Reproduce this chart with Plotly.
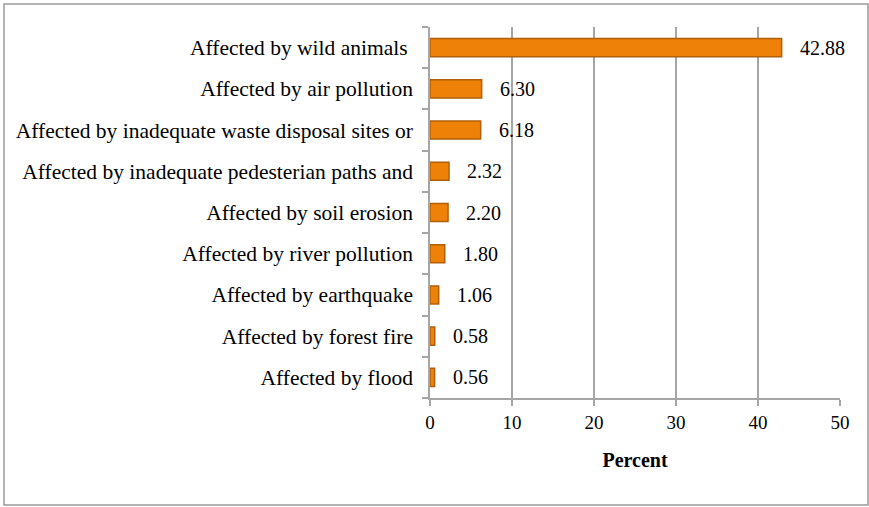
import plotly.graph_objects as go

categories = [
    "Affected by wild animals ",
    "Affected by air pollution",
    "Affected by inadequate waste disposal sites or",
    "Affected by inadequate pedesterian paths and",
    "Affected by soil erosion",
    "Affected by river pollution",
    "Affected by earthquake",
    "Affected by forest fire",
    "Affected by flood",
]
values = [42.88, 6.30, 6.18, 2.32, 2.20, 1.80, 1.06, 0.58, 0.56]
value_labels = ["42.88", "6.30", "6.18", "2.32", "2.20", "1.80", "1.06", "0.58", "0.56"]
x_ticks = [0, 10, 20, 30, 40, 50]

FONT = "Liberation Serif"
W, H = 869, 507
L, R, T, B = 430, 29, 27, 109
pw, ph = W - L - R, H - T - B

fig = go.Figure()
fig.add_trace(go.Bar(
    y=categories, x=values, orientation="h",
    width=0.44,
    marker=dict(color="#EE8208", line=dict(color="#B0600A", width=1.5)),
    hoverinfo="skip",
))

for c, v, t in zip(categories, values, value_labels):
    fig.add_annotation(x=v, y=c, text=t, showarrow=False, xanchor="left",
                       xshift=16, font=dict(family=FONT, size=20, color="#000"))

fig.add_shape(type="rect", xref="paper", yref="paper",
              x0=(4 - L) / pw, x1=(868 - L) / pw,
              y0=-(505 - (H - B)) / ph, y1=(H - B - 4) / ph,
              line=dict(color="#9A9A9A", width=1.5), layer="below")

fig.update_layout(
    width=W, height=H,
    margin=dict(l=L, r=R, t=T, b=B, autoexpand=False),
    paper_bgcolor="white", plot_bgcolor="white",
    showlegend=False,
    font=dict(family=FONT, size=20, color="#000"),
    xaxis=dict(
        range=[0, 50], tickvals=x_ticks, ticktext=[str(v) for v in x_ticks],
        showgrid=True, gridcolor="#A6A6A6", gridwidth=1.5,
        showline=True, linecolor="#A6A6A6", linewidth=1.5,
        ticks="outside", ticklen=6, tickcolor="#A6A6A6", tickwidth=1.5,
        zeroline=False,
        title=dict(text="<b>Percent</b>", font=dict(family=FONT, size=20), standoff=21),
        tickfont=dict(family=FONT, size=19),
    ),
    yaxis=dict(
        categoryorder="array", categoryarray=categories[::-1],
        showline=True, linecolor="#A6A6A6", linewidth=1.5,
        ticks="outside", ticklen=6, tickcolor="#A6A6A6", tickwidth=1.5,
        tickson="boundaries",
        showgrid=False, zeroline=False,
        tickfont=dict(family=FONT, size=21.5),
        ticklabelstandoff=11,
    ),
)

fig.write_html("out.html", config={"displayModeBar": False},
               post_script="document.body.style.margin='0';")
